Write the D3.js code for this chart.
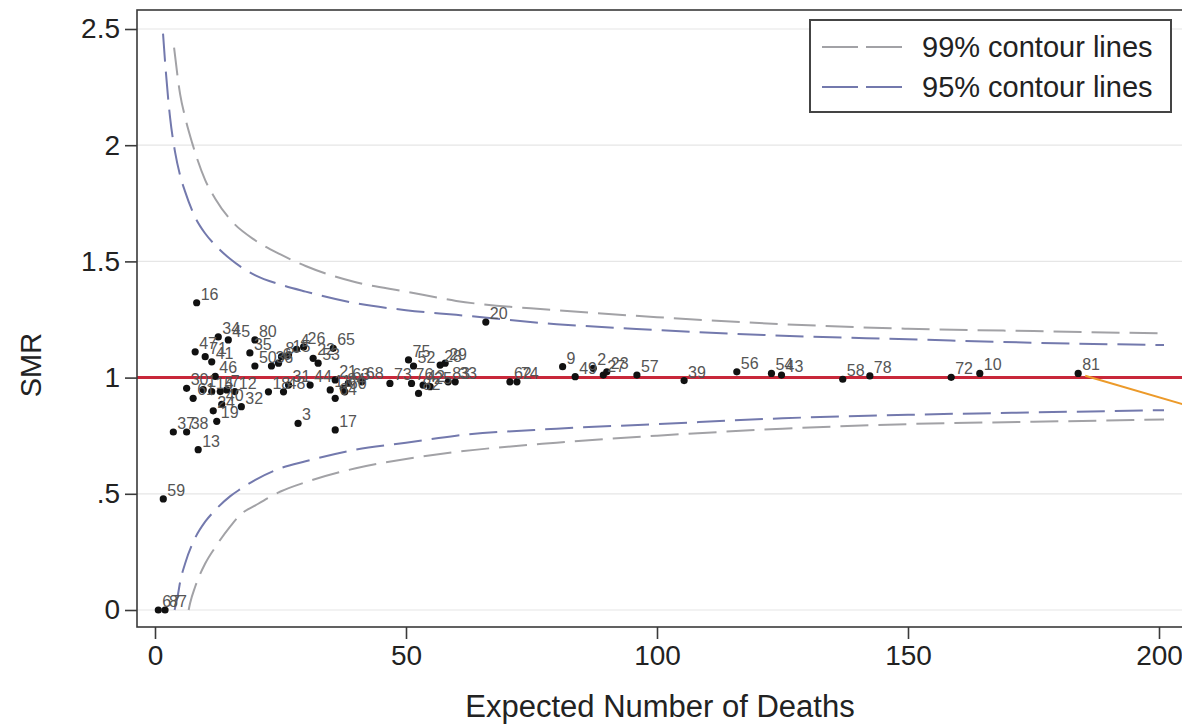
<!DOCTYPE html>
<html>
<head>
<meta charset="utf-8">
<script src="https://cdn.jsdelivr.net/npm/d3@7"></script>
<style>
  html, body { margin: 0; padding: 0; background: #fff; }
  svg { display: block; font-family: "Liberation Sans", Arial, sans-serif; }
</style>
</head>
<body>
<svg id="chart" width="1182" height="725"></svg>
<script>
// Funnel plot of standardised mortality ratios by region

// Regions: expected deaths, SMR and region number
const expectedDeaths = [
  8.3, 12.6, 14.6, 8.0, 10.0, 11.3, 12.0, 6.3, 7.6, 9.6, 11.3, 13.0, 14.3, 15.9, 12.3, 13.3, 11.6, 17.2, 3.65, 6.3, 8.6, 1.65, 0.66, 2.0,
  19.9, 18.9, 19.9, 23.2, 24.6, 25.2, 26.6, 28.2, 29.6, 31.5, 32.5, 35.5, 22.6, 25.6, 26.6, 30.9, 34.9, 35.9, 37.5, 37.8, 38.5, 35.9, 41.2, 28.5, 35.9, 46.8,
  50.5, 51.5, 51.1, 52.5, 53.4, 54.8, 56.8, 57.8, 58.4, 59.8,
  70.7, 72.1, 65.9, 81.2, 83.7, 87.3, 89.3, 90.0, 96.0, 105.4, 115.9, 122.8, 124.8, 137.0, 142.4, 158.6, 164.3, 183.9
];
const smrValues = [
  1.322, 1.175, 1.162, 1.111, 1.090, 1.068, 1.005, 0.954, 0.911, 0.948, 0.940, 0.940, 0.947, 0.940, 0.812, 0.885, 0.857, 0.875, 0.766, 0.766, 0.690, 0.478, 0, 0,
  1.162, 1.106, 1.050, 1.050, 1.062, 1.090, 1.097, 1.122, 1.132, 1.083, 1.062, 1.126, 0.939, 0.939, 0.968, 0.968, 0.947, 0.911, 0.954, 0.939, 0.975, 0.990, 0.982, 0.803, 0.775, 0.975,
  1.076, 1.050, 0.975, 0.932, 0.968, 0.961, 1.054, 1.062, 0.982, 0.982,
  0.982, 0.982, 1.239, 1.047, 1.004, 1.040, 1.011, 1.025, 1.011, 0.987, 1.025, 1.018, 1.011, 0.993, 1.007, 1.001, 1.018, 1.018
];
const regionIds = [
  "16", "34", "45", "47", "71", "41", "46", "30", "61", "1", "14", "5", "7", "12", "19", "40", "24", "32", "37", "38", "13", "59", "67", "87",
  "80", "35", "50", "36", "6", "8", "15", "4", "26", "22", "53", "65", "18", "48", "31", "44", "11", "64", "84", "60", "63", "21", "68", "3", "17", "73",
  "75", "52", "76", "82", "42", "25", "28", "29", "83", "33",
  "62", "74", "20", "9", "49", "2", "27", "23", "57", "39", "56", "54", "43", "58", "78", "72", "10", "81"
];

// Contour lines (control limits)
const upper95E   = [1.6, 2, 3, 4, 5, 6, 8, 10, 12, 15, 20, 25, 30, 40, 50, 60, 80, 100, 125, 150, 175, 201];
const upper95    = [2.48, 2.36, 2.12, 1.97, 1.87, 1.80, 1.69, 1.62, 1.57, 1.51, 1.44, 1.40, 1.37, 1.32, 1.29, 1.27, 1.23, 1.205, 1.18, 1.165, 1.15, 1.14];
const lower95E   = [3.9, 4.6, 5, 6, 8, 10, 12, 15, 17, 20, 25, 30, 40, 50, 60, 80, 100, 125, 150, 175, 201];
const lower95    = [0.0, 0.07, 0.12, 0.20, 0.31, 0.38, 0.43, 0.49, 0.52, 0.56, 0.61, 0.64, 0.69, 0.72, 0.75, 0.78, 0.80, 0.825, 0.84, 0.85, 0.86];
const upper99E   = [3.8, 5, 6, 7.4, 10, 12, 15, 20, 25, 30, 40, 50, 60, 80, 100, 125, 150, 175, 201];
const upper99    = [2.42, 2.22, 2.12, 2.01, 1.85, 1.77, 1.68, 1.59, 1.53, 1.48, 1.41, 1.37, 1.33, 1.29, 1.26, 1.23, 1.21, 1.20, 1.19];
const lower99E   = [6.7, 7, 8, 10, 12, 15, 17, 20, 25, 30, 40, 50, 60, 80, 100, 125, 150, 175, 201];
const lower99    = [0.0, 0.03, 0.10, 0.20, 0.27, 0.36, 0.41, 0.45, 0.51, 0.55, 0.61, 0.65, 0.68, 0.72, 0.75, 0.78, 0.80, 0.81, 0.82];

// Pointer line leading away from region 81
const pointerE   = [185.3, 212];
const pointerSMR = [1.008, 0.84];

// Axis ticks
const xTicks = [0, 50, 100, 150, 200];
const xTickLabels = ["0", "50", "100", "150", "200"];
const yTicks = [0, 0.5, 1, 1.5, 2, 2.5];
const yTickLabels = ["0", ".5", "1", "1.5", "2", "2.5"];
const referenceSMR = 1;

const legendItems = ["99% contour lines", "95% contour lines"];

const svg = d3.select("#chart");
const frame = { left: 137, top: 10, right: 1192, bottom: 627 };

const x = d3.scaleLinear().domain([0, 200]).range([155, 1159]);
const y = d3.scaleLinear().domain([0, 2.5]).range([610, 29]);

const col99 = "#a2a2a6";
const col95 = "#7379ad";

// clip to the plot region
svg.append("defs").append("clipPath").attr("id", "plotClip")
  .append("rect")
  .attr("x", frame.left).attr("y", frame.top)
  .attr("width", frame.right - frame.left).attr("height", frame.bottom - frame.top);

// horizontal grid lines
svg.append("g")
  .selectAll("line")
  .data(yTicks)
  .join("line")
  .attr("x1", frame.left).attr("x2", frame.right)
  .attr("y1", d => y(d)).attr("y2", d => y(d))
  .attr("stroke", "#e6e6e6").attr("stroke-width", 1.2);

const plot = svg.append("g").attr("clip-path", "url(#plotClip)");

// reference line at SMR = 1
plot.append("line")
  .attr("x1", frame.left).attr("x2", frame.right)
  .attr("y1", y(referenceSMR)).attr("y2", y(referenceSMR))
  .attr("stroke", "#c8283a").attr("stroke-width", 3);

// contour lines
const line = d3.line().x(d => x(d[0])).y(d => y(d[1])).curve(d3.curveMonotoneX);
const contours = [
  { e: upper99E, v: upper99, c: col99 },
  { e: lower99E, v: lower99, c: col99 },
  { e: upper95E, v: upper95, c: col95 },
  { e: lower95E, v: lower95, c: col95 }
];
contours.forEach(ct => {
  plot.append("path")
    .attr("d", line(d3.zip(ct.e, ct.v)))
    .attr("fill", "none")
    .attr("stroke", ct.c)
    .attr("stroke-width", 2)
    .attr("stroke-dasharray", "28,10");
});

// pointer line
plot.append("path")
  .attr("d", d3.line().x(d => x(d[0])).y(d => y(d[1]))(d3.zip(pointerE, pointerSMR)))
  .attr("stroke", "#ec9a2a").attr("stroke-width", 2).attr("fill", "none");

// region points
const pts = d3.zip(expectedDeaths, smrValues, regionIds);
plot.append("g")
  .selectAll("circle")
  .data(pts)
  .join("circle")
  .attr("cx", d => x(d[0]))
  .attr("cy", d => y(d[1]))
  .attr("r", 3.6)
  .attr("fill", "#111");

plot.append("g")
  .selectAll("text")
  .data(pts)
  .join("text")
  .attr("x", d => x(d[0]) + 4)
  .attr("y", d => y(d[1]) - 3)
  .attr("font-size", 16)
  .attr("fill", "#555")
  .text(d => d[2]);

// frame
svg.append("rect")
  .attr("x", frame.left).attr("y", frame.top)
  .attr("width", frame.right - frame.left).attr("height", frame.bottom - frame.top)
  .attr("fill", "none").attr("stroke", "#3a3a3a").attr("stroke-width", 1.6);

// y axis
const yAxis = d3.axisLeft(y)
  .tickValues(yTicks)
  .tickSize(12)
  .tickPadding(5)
  .tickFormat((d, i) => yTickLabels[i]);
const gy = svg.append("g").attr("transform", `translate(${frame.left},0)`).call(yAxis);
gy.select(".domain").remove();
gy.selectAll(".tick line").attr("stroke", "#3a3a3a").attr("stroke-width", 1.6);
gy.selectAll(".tick text").attr("font-size", 28).attr("fill", "#222")
  .attr("font-family", "'Liberation Sans', Arial, sans-serif");

// x axis
const xAxis = d3.axisBottom(x)
  .tickValues(xTicks)
  .tickSize(12)
  .tickPadding(6)
  .tickFormat((d, i) => xTickLabels[i]);
const gx = svg.append("g").attr("transform", `translate(0,${frame.bottom})`).call(xAxis);
gx.select(".domain").remove();
gx.selectAll(".tick line").attr("stroke", "#3a3a3a").attr("stroke-width", 1.6);
gx.selectAll(".tick text").attr("font-size", 28).attr("fill", "#222")
  .attr("font-family", "'Liberation Sans', Arial, sans-serif");

// axis titles
svg.append("text")
  .attr("x", 660).attr("y", 717)
  .attr("text-anchor", "middle")
  .attr("font-size", 31).attr("fill", "#222")
  .text("Expected Number of Deaths");

svg.append("text")
  .attr("transform", "translate(41,365) rotate(-90)")
  .attr("text-anchor", "middle")
  .attr("font-size", 29).attr("fill", "#222")
  .text("SMR");

// legend
const lg = svg.append("g");
lg.append("rect")
  .attr("x", 810).attr("y", 20).attr("width", 361).attr("height", 92)
  .attr("fill", "#fff").attr("stroke", "#444").attr("stroke-width", 2);
legendItems.forEach((label, i) => {
  const cy = 47 + i * 40;
  lg.append("line")
    .attr("x1", 822).attr("x2", 906).attr("y1", cy).attr("y2", cy)
    .attr("stroke", i === 0 ? col99 : col95).attr("stroke-width", 2)
    .attr("stroke-dasharray", "36,8");
  lg.append("text")
    .attr("x", 922).attr("y", cy + 10)
    .attr("font-size", 29).attr("fill", "#222")
    .text(label);
});
</script>
</body>
</html>
